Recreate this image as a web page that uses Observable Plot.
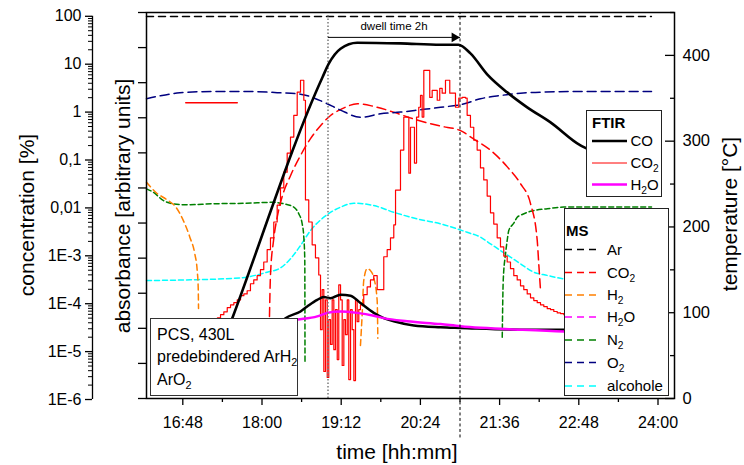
<!DOCTYPE html>
<html>
<head>
<meta charset="utf-8">
<script src="https://cdn.jsdelivr.net/npm/d3@7"></script>
<script src="https://cdn.jsdelivr.net/npm/@observablehq/plot@0.6"></script>
<style>
  html, body { margin: 0; padding: 0; background: #fff; }
  #chart { position: relative; width: 744px; height: 465px; overflow: hidden; }
  #chart > svg { position: absolute; left: 0; top: 0; }
</style>
</head>
<body>
<div id="chart"></div>
<script>
// ---------------- axes / ticks (time in minutes since midnight) ----------------
const timeDomain = [975, 1455];
const timeTicks = [1008, 1080, 1152, 1224, 1296, 1368, 1440];
const timeTickLabels = ["16:48", "18:00", "19:12", "20:24", "21:36", "22:48", "24:00"];
const timeMinorTicks = [1044, 1116, 1188, 1260, 1332, 1404];

const concDomain = [1.05e-6, 120];
const concTicks = [100, 10, 1, 0.1, 0.01, 1e-3, 1e-4, 1e-5, 1e-6];
const concTickLabels = ["100", "10", "1", "0,1", "0,01", "1E-3", "1E-4", "1E-5", "1E-6"];

const absDomain = [0, 11];
const absTicks = [0, 1, 2, 3, 4, 5, 6, 7, 8, 9, 10, 11];

const tempDomain = [0, 450];
const tempTicks = [0, 100, 200, 300, 400];
const tempMinorTicks = [50, 150, 250, 350, 450];

const dwellStart = 1140, dwellEnd = 1260;
const dwellLabel = "dwell time 2h";

// ---------------- MS data: concentration [%] ----------------
const arTime = [975, 1434];
const arConc = [99, 99];

const o2Time = [975, 987.7, 1005.3, 1035.6, 1065.9, 1096.2, 1115, 1136.2, 1151.4, 1169.5, 1187.7, 1205.9, 1224.1, 1242.3, 1262.3, 1278.6, 1296.8, 1315, 1333.2, 1369.5, 1434.1];
const o2Conc = [1.90, 2.2, 2.53, 2.69, 2.69, 2.53, 2.37, 1.61, 1.10, 0.78, 0.92, 1.0, 1.12, 1.26, 1.46, 1.90, 2.22, 2.48, 2.61, 2.69, 2.69];

const co2MsTime = [1086.8, 1087.7, 1090.5, 1094.1, 1098.6, 1105.9, 1115, 1124.1, 1133.2, 1142.3, 1151.4, 1166.8, 1181.4, 1199.5, 1217.7, 1242.3, 1260.5, 1272.3, 1287.7, 1303.2, 1315, 1324.1, 1330.2, 1331.6, 1333.2];
const co2MsConc = [5.4e-5, 3.9e-4, 2.1e-3, 6.9e-3, 0.018, 0.047, 0.124, 0.28, 0.52, 0.85, 1.13, 1.49, 1.32, 1.0, 0.72, 0.51, 0.41, 0.275, 0.16, 0.071, 0.032, 0.0123, 0.0021, 6.8e-4, 1.9e-4];

const h2Time = [975, 984.1, 993.2, 1001.8, 1008.4, 1014.4, 1018.9, 1021.1, 1022, 1022.3, 1100, 1169.5, 1171.1, 1172.5, 1175.6, 1178.6, 1181.6, 1184.7, 1185.3];
const h2Conc = [0.0344, 0.0205, 0.015, 0.0103, 0.0055, 0.00245, 0.0011, 4.9e-4, 2.2e-4, 7.9e-5, null, 1.34e-5, 6.2e-5, 3.05e-4, 5.4e-4, 4.9e-4, 3.5e-4, 1.17e-4, 1.9e-5];

const n2Time = [975, 981.1, 990.2, 999.3, 1011.4, 1035.6, 1065.9, 1090.2, 1099.8, 1108.9, 1113.5, 1116.5, 1118, 1118.9, 1119.1, 1200, 1298.4, 1299.3, 1301.4, 1302.9, 1304.4, 1308.9, 1312, 1315, 1324.1, 1339.3, 1354.4, 1387.7, 1434.1];
const n2Conc = [0.025, 0.0213, 0.0143, 0.0122, 0.0116, 0.0122, 0.0125, 0.0131, 0.0122, 0.0104, 0.0075, 0.0047, 0.00245, 8e-4, 6e-6, null, 2.0e-5, 3.05e-4, 1.1e-3, 2.09e-3, 0.0034, 0.0048, 0.0064, 0.0070, 0.0085, 0.0096, 0.0104, 0.0105, 0.0105];

const alcTime = [975, 1015, 1060.5, 1084.7, 1096.8, 1105.9, 1115, 1124.1, 1136.2, 1151.4, 1163.5, 1181.6, 1199.8, 1221.1, 1242.3, 1266.5, 1278.6, 1287.7, 1296.8, 1305.9, 1315, 1327.1, 1339.3, 1354.4, 1387.7, 1434.1];
const alcConc = [3.05e-4, 3.15e-4, 3.47e-4, 4.55e-4, 5.6e-4, 8.65e-4, 1.64e-3, 3.37e-3, 6.4e-3, 0.01035, 0.01254, 0.0112, 8.1e-3, 5.9e-3, 4.65e-3, 3.1e-3, 2.45e-3, 1.78e-3, 1.29e-3, 9.4e-4, 6.8e-4, 4.55e-4, 3.9e-4, 3.3e-4, 2.9e-4, 2.8e-4];

// ---------------- FTIR data: absorbance [arb. units] ----------------
const coTime = [1060.5, 1087.7, 1101.4, 1115, 1121.1, 1130.2, 1136.2, 1142.3, 1151.4, 1160.5, 1169.5, 1181.6, 1190.7, 1199.8, 1218, 1242.3, 1260.5, 1315, 1354.1, 1434.1];
const coAbs = [1.0, 1.8, 2.29, 2.48, 2.62, 2.81, 2.89, 2.86, 2.96, 2.93, 2.72, 2.44, 2.29, 2.20, 2.08, 2.03, 2.01, 1.96, 1.96, 1.95];

const h2oTime = [1087.7, 1112.3, 1130.2, 1139.3, 1151.4, 1166.5, 1181.6, 1190.7, 1212, 1242.3, 1260.5, 1315, 1354.4, 1434.1];
const h2oAbs = [2.15, 2.25, 2.34, 2.44, 2.48, 2.44, 2.36, 2.29, 2.20, 2.12, 2.06, 1.96, 1.91, 1.88];

const co2FtirTime = [1024.1, 1033.2, 1039.5, 1042.3, 1045.3, 1048.4, 1051.4, 1054.4, 1057.5, 1060.5, 1063.5, 1066.5, 1069.5, 1072.5, 1075.6, 1078.6, 1081.6, 1084.7, 1087.7, 1090.7, 1093.8, 1096.8, 1099.8, 1102.9, 1105.9, 1108.9, 1112, 1115, 1118, 1119.5, 1122.5, 1125.6, 1128.6, 1131.6, 1133.2, 1134.7, 1136.2, 1137.7, 1139.3, 1140.7, 1142.3, 1143.8, 1145.3, 1146.8, 1148.4, 1149.8, 1151.4, 1152.9, 1154.4, 1155.9, 1157.5, 1158.9, 1160.5, 1162, 1163.5, 1165, 1166.5, 1168, 1169.5, 1172.5, 1175.6, 1178.6, 1181.6, 1184.7, 1187.7, 1190.7, 1193.8, 1196.8, 1199.8, 1201.4, 1205.9, 1208.9, 1212, 1213.5, 1215, 1217.5, 1218.6, 1220.5, 1222.5, 1224.1, 1225.6, 1227.1, 1230.7, 1232.5, 1234.7, 1239.3, 1241.6, 1243.8, 1246.8, 1249.5, 1250.7, 1252.9, 1255.9, 1258.9, 1262, 1265, 1266.5, 1269.5, 1272.5, 1275.6, 1278.6, 1281.6, 1284.7, 1287.7, 1290.7, 1293.8, 1296.8, 1299.8, 1302.9, 1305.9, 1308.9, 1312, 1315, 1318, 1321.1, 1324.1, 1327.1, 1330.2, 1333.2, 1336.2, 1339.3, 1342.3, 1345.3, 1348.4, 1351.4, 1354.4, 1387.7, 1434.1];
const co2FtirAbs = [1.54, 1.96, 2.30, 2.39, 2.47, 2.59, 2.67, 2.73, 2.81, 2.93, 2.98, 3.07, 3.27, 3.38, 3.50, 3.67, 3.89, 4.24, 4.58, 5.03, 5.51, 6.00, 6.45, 6.99, 7.45, 8.07, 8.73, 9.07, 8.50, 5.66, 5.03, 4.38, 4.01, 3.52, 1.96, 3.10, 0.77, 2.81, 0.60, 2.25, 1.54, 2.81, 1.39, 2.53, 1.11, 3.24, 2.81, 0.94, 2.25, 1.82, 2.81, 0.54, 2.53, 1.96, 0.51, 2.81, 2.19, 2.53, 2.67, 2.96, 3.18, 3.38, 3.50, 3.10, 3.10, 4.04, 4.24, 4.58, 4.95, 5.94, 7.08, 8.02, 8.02, 6.42, 7.73, 7.73, 6.71, 8.02, 8.30, 8.64, 8.02, 9.35, 9.35, 8.58, 8.78, 8.50, 8.84, 8.70, 9.07, 9.07, 8.70, 8.70, 8.30, 8.56, 8.58, 8.56, 8.07, 7.73, 7.36, 7.08, 6.57, 6.23, 5.77, 5.29, 4.97, 4.58, 4.32, 4.06, 3.89, 3.70, 3.50, 3.38, 3.21, 3.10, 2.98, 2.87, 2.79, 2.73, 2.67, 2.62, 2.56, 2.53, 2.48, 2.44, 2.42, 2.39, 2.25, 2.16];

const co2MarkTime = [1010.7, 1057.5];
const co2MarkAbs = [8.43, 8.43];

// ---------------- temperature [°C] ----------------
const tempTime = [1033, 1052.9, 1135, 1140.7, 1151.4, 1166.5, 1205.9, 1242.3, 1258.6, 1269.5, 1284.7, 1302.9, 1321.1, 1342.3, 1369.5, 1375, 1405.9, 1433.3];
const tempC = [25, 93.2, 374.6, 390.3, 407.8, 414.8, 414, 412.4, 412.4, 402.3, 377.9, 356.9, 339.4, 321.9, 295.1, 291.6, 274, 260];

// ---------------- layout / style ----------------
const FONT = '"Liberation Sans", Arial, Helvetica, sans-serif';
const W = 744, H = 465, ML = 146, MR = 70, MT = 12, MB = 67;
const frameW = W - ML - MR;
const C = {ar: "#000000", co2: "#ff0000", h2: "#ff8000", h2o: "#ff00ff", n2: "#008000", o2: "#000080", alc: "#00ffff", co: "#000000"};

const rows = (ts, vs) => ts.map((t, i) => ({t, v: vs[i]}));
const base = {
  width: W, height: H, marginLeft: ML, marginRight: MR, marginTop: MT, marginBottom: MB,
  style: {background: "transparent", fontFamily: FONT, overflow: "visible", color: "#000"}
};
const dashed = (stroke, dash) => ({x: "t", y: "v", stroke, strokeWidth: 1.5, strokeDasharray: dash, curve: "monotone-x"});

// ---------- MS plot (log concentration) ----------
const msPlot = Plot.plot({
  ...base,
  x: {domain: timeDomain, label: null},
  y: {type: "log", domain: concDomain, label: null},
  marks: [
    Plot.axisX(timeTicks, {anchor: "bottom", tickSize: 7, tickPadding: 11, fontSize: 16, strokeWidth: 1.3,
      tickFormat: d => timeTickLabels[timeTicks.indexOf(d)], label: null}),
    Plot.axisX(timeMinorTicks, {anchor: "bottom", tickSize: 4, strokeWidth: 1.3, tickFormat: () => "", label: null}),
    Plot.axisY(concTicks, {anchor: "left", dx: -54, tickSize: 7, tickPadding: 4, fontSize: 16, strokeWidth: 1.3,
      tickFormat: d => concTickLabels[concTicks.indexOf(d)], label: null}),
    Plot.axisY(d3.range(-6, 2).flatMap(e => d3.range(2, 10).map(m => m * Math.pow(10, e))),
      {anchor: "left", dx: -54, tickSize: 4, strokeWidth: 1, tickFormat: () => "", label: null}),
    Plot.ruleX([timeDomain[0]], {y1: concTicks[concTicks.length - 1], y2: concTicks[0], dx: -54, strokeWidth: 1.3}),
    Plot.line(rows(alcTime, alcConc), dashed(C.alc, "5,3")),
    Plot.line(rows(n2Time, n2Conc), dashed(C.n2, "5,3")),
    Plot.line(rows(h2Time, h2Conc), dashed(C.h2, "6,4")),
    Plot.line(rows(co2MsTime, co2MsConc), dashed(C.co2, "9,5")),
    Plot.line(rows(o2Time, o2Conc), dashed(C.o2, "9,5")),
    Plot.line(rows(arTime, arConc), dashed(C.ar, "7,5"))
  ]
});

// ---------- FTIR plot (absorbance) ----------
const ftirPlot = Plot.plot({
  ...base,
  x: {domain: timeDomain, axis: null},
  y: {domain: absDomain, label: null},
  marks: [
    Plot.axisY(absTicks, {anchor: "left", tickSize: 8, strokeWidth: 1.3, tickFormat: () => "", label: null}),
    Plot.line(rows(co2FtirTime, co2FtirAbs), {x: "t", y: "v", stroke: C.co2, strokeWidth: 1.2, curve: "step-after"}),
    Plot.line(rows(co2MarkTime, co2MarkAbs), {x: "t", y: "v", stroke: C.co2, strokeWidth: 1.5}),
    Plot.line(rows(coTime, coAbs), {x: "t", y: "v", stroke: C.co, strokeWidth: 2.5, curve: "monotone-x"}),
    Plot.line(rows(h2oTime, h2oAbs), {x: "t", y: "v", stroke: C.h2o, strokeWidth: 2.5, curve: "monotone-x"})
  ]
});

// ---------- temperature plot ----------
const tempPlot = Plot.plot({
  ...base,
  x: {domain: timeDomain, axis: null},
  y: {domain: tempDomain, label: null},
  marks: [
    Plot.ruleX([dwellStart], {y1: 0, y2: 450, stroke: "#7a7a7a", strokeWidth: 1.5, strokeDasharray: "1.5,2"}),
    Plot.ruleX([dwellEnd], {y1: -46, y2: 450, stroke: "#000", strokeWidth: 1, strokeDasharray: "3,2.5"}),
    Plot.line(rows(tempTime, tempC), {x: "t", y: "v", stroke: "#000", strokeWidth: 2.6, curve: "monotone-x"}),
    Plot.link([{a: dwellStart, b: dwellEnd, lvl: 421}], {x1: "a", x2: "b", y1: "lvl", y2: "lvl", stroke: "#000", strokeWidth: 1}),
    Plot.dot([{a: dwellEnd, lvl: 421}], {x: "a", y: "lvl", symbol: "triangle", rotate: 90, r: 3.6, fill: "#000", stroke: null, dx: -5.6}),
    Plot.text([dwellLabel], {x: (dwellStart + dwellEnd) / 2, y: 434, text: d => d, fontSize: 11.5, fill: "#000"}),
    Plot.axisY(tempTicks, {anchor: "right", tickSize: 0, tickPadding: 8, fontSize: 16.5, label: null}),
    Plot.axisY(tempTicks, {anchor: "left", dx: frameW, tickSize: 9, strokeWidth: 1.3, tickFormat: () => "", label: null}),
    Plot.axisY(tempMinorTicks, {anchor: "left", dx: frameW, tickSize: 4, strokeWidth: 1.3, tickFormat: () => "", label: null}),
    Plot.frame({stroke: "#000", strokeWidth: 1.5})
  ]
});

const chart = document.getElementById("chart");
chart.append(msPlot, ftirPlot, tempPlot);

// ---------- overlay: titles, legends, annotation ----------
const ov = d3.create("svg").attr("width", W).attr("height", H)
  .attr("font-family", FONT).style("position", "absolute").style("left", 0).style("top", 0);

function rich(textSel, str, fs) {
  const parts = str.split(/_(\d)/);
  let shifted = false;
  const off = fs * 0.27;
  parts.forEach((p, i) => {
    if (p === "") return;
    const ts = textSel.append("tspan").text(p);
    if (i % 2 === 1) { ts.attr("font-size", fs * 0.68).attr("dy", off); shifted = true; }
    else if (shifted) { ts.attr("dy", -off); shifted = false; }
  });
}

function vtitle(x, y, str) {
  ov.append("text").attr("transform", `translate(${x},${y}) rotate(-90)`)
    .attr("text-anchor", "middle").attr("dy", "0.35em").attr("font-size", 21).text(str);
}
vtitle(27, 215, "concentration [%]");
vtitle(123, 206, "absorbance [arbitrary units]");
vtitle(730, 214, "temperature [°C]");
ov.append("text").attr("x", 397).attr("y", 452).attr("text-anchor", "middle").attr("dy", "0.35em")
  .attr("font-size", 21).text("time [hh:mm]");

// FTIR legend
const ftirLegend = [
  {label: "CO", stroke: C.co, width: 2.5},
  {label: "CO_2", stroke: C.co2, width: 1},
  {label: "H_2O", stroke: C.h2o, width: 2.5}
];
const gF = ov.append("g");
gF.append("rect").attr("x", 586.5).attr("y", 110.5).attr("width", 75).attr("height", 86)
  .attr("fill", "#fff").attr("stroke", "#222").attr("stroke-width", 1);
gF.append("text").attr("x", 592).attr("y", 122.5).attr("dy", "0.35em").attr("font-size", 15)
  .attr("font-weight", "bold").text("FTIR");
const ftirRowY = [141, 163, 184.5];
ftirLegend.forEach((d, i) => {
  gF.append("line").attr("x1", 592).attr("x2", 627).attr("y1", ftirRowY[i]).attr("y2", ftirRowY[i])
    .attr("stroke", d.stroke).attr("stroke-width", d.width);
  rich(gF.append("text").attr("x", 630.5).attr("y", ftirRowY[i]).attr("dy", "0.35em").attr("font-size", 15), d.label, 15);
});

// MS legend
const msLegend = [
  {label: "Ar", stroke: C.ar},
  {label: "CO_2", stroke: C.co2},
  {label: "H_2", stroke: C.h2},
  {label: "H_2O", stroke: C.h2o},
  {label: "N_2", stroke: C.n2},
  {label: "O_2", stroke: C.o2},
  {label: "alcohole", stroke: C.alc}
];
const gM = ov.append("g");
gM.append("rect").attr("x", 564.5).attr("y", 208.5).attr("width", 104).attr("height", 187)
  .attr("fill", "#fff").attr("stroke", "#222").attr("stroke-width", 1);
gM.append("text").attr("x", 566).attr("y", 231).attr("dy", "0.35em").attr("font-size", 15)
  .attr("font-weight", "bold").text("MS");
const msRowY = [249.5, 272.5, 295, 317, 340, 362.5, 386];
msLegend.forEach((d, i) => {
  gM.append("line").attr("x1", 565).attr("x2", 601).attr("y1", msRowY[i]).attr("y2", msRowY[i])
    .attr("stroke", d.stroke).attr("stroke-width", 1.5).attr("stroke-dasharray", "7,5");
  rich(gM.append("text").attr("x", 607).attr("y", msRowY[i]).attr("dy", "0.35em").attr("font-size", 15), d.label, 15);
});

// annotation box
const noteLines = ["PCS, 430L", "predebindered ArH_2", "ArO_2"];
const gN = ov.append("g");
gN.append("rect").attr("x", 150.5).attr("y", 318.5).attr("width", 147).attr("height", 77)
  .attr("fill", "#fff").attr("stroke", "#333").attr("stroke-width", 1);
const noteY = [334, 356, 379];
noteLines.forEach((s, i) => {
  rich(gN.append("text").attr("x", 157).attr("y", noteY[i]).attr("dy", "0.35em").attr("font-size", 16), s, 16);
});

chart.append(ov.node());
</script>
</body>
</html>
